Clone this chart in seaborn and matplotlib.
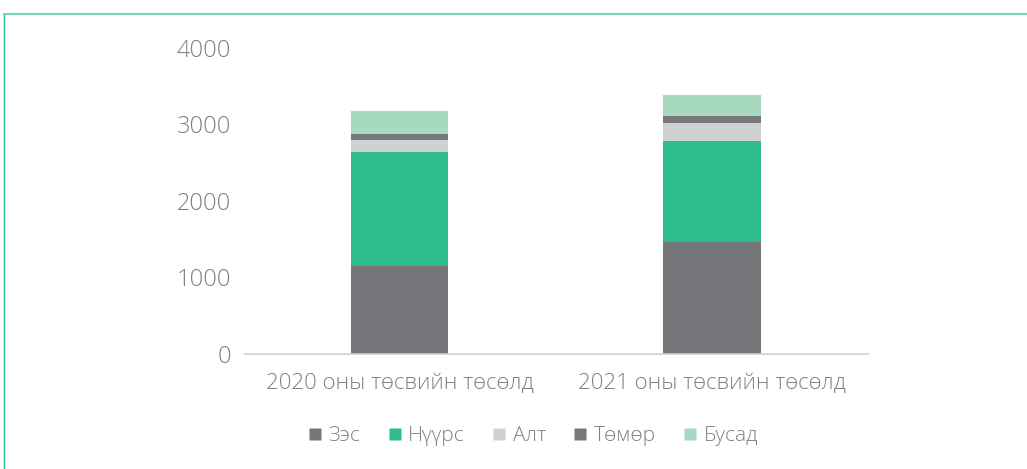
import seaborn as sns
import matplotlib.pyplot as plt
import pandas as pd
import numpy as np
from matplotlib.lines import Line2D

# data
categories = ['2020 оны төсвийн төсөлд', '2021 оны төсвийн төсөлд']
series = ['Зэс', 'Нүүрс', 'Алт', 'Төмөр', 'Бусад']
zes = [1150, 1465]
nuurs = [1490, 1320]
alt = [160, 235]
tomor = [75, 90]
busad = [305, 275]

colors = ['#76777a', '#2ebc8a', '#d0d1d3', '#77787b', '#a6d9bf']

df = pd.DataFrame({'cat': categories, 'Зэс': zes, 'Нүүрс': nuurs,
                   'Алт': alt, 'Төмөр': tomor, 'Бусад': busad})
cum = df[series].cumsum(axis=1)

sns.set_style("white")
plt.rcParams['font.family'] = ['Open Sans', 'DejaVu Sans']
plt.rcParams['font.weight'] = 'light'

fig = plt.figure(figsize=(10.27, 4.69), dpi=100)
ax = fig.add_axes([0.2386, 0.2452, 0.8452 - 0.2386, 0.8977 - 0.2452])

# draw from the top of the stack down so each segment shows
for s, c in reversed(list(zip(series, colors))):
    sns.barplot(x=df['cat'], y=cum[s], color=c, width=0.313,
                saturation=1, ax=ax, edgecolor='none', errorbar=None)

ax.set_ylim(0, 4000)
ax.set_xlim(-0.495, 1.5)
ax.set_yticks([0, 1000, 2000, 3000, 4000])
ax.set_xlabel('')
ax.set_ylabel('')
for sp in ['top', 'right', 'left']:
    ax.spines[sp].set_visible(False)
ax.spines['bottom'].set_color('#d0d0d0')
ax.spines['bottom'].set_linewidth(1.2)
ax.tick_params(axis='both', length=0, colors='#808080')
ax.tick_params(axis='y', pad=10, labelsize=17)
ax.tick_params(axis='x', pad=14, labelsize=16)

handles = [Line2D([0], [0], marker='s', color='none', markerfacecolor=c,
                  markeredgecolor='none', markersize=9) for c in colors]
leg = fig.legend(handles, series, loc='center', bbox_to_anchor=(0.519, 0.07),
                 ncol=5, frameon=False, fontsize=15, handlelength=0.7,
                 handletextpad=0.3, columnspacing=1.3)
for t in leg.get_texts():
    t.set_color('#808080')

# thin green frame lines on top and left
fig.add_artist(Line2D([0.004, 1.0], [0.97, 0.97], color='#7dd6bb', lw=1.5,
                      transform=fig.transFigure))
fig.add_artist(Line2D([0.004, 0.004], [0.0, 0.97], color='#2ebc8a', lw=1,
                      transform=fig.transFigure))

fig.savefig('out.png', dpi=100)
